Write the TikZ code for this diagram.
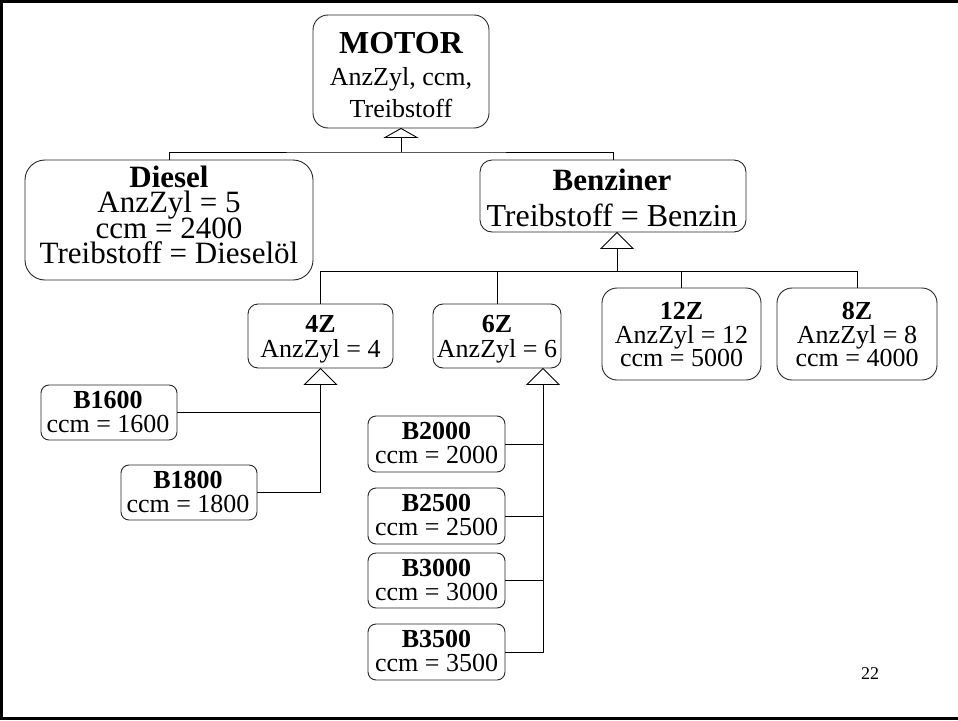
\documentclass[tikz,border=0pt]{standalone}
\usepackage{fontspec}
\setmainfont{Liberation Serif}
\usetikzlibrary{calc}
\newcommand\myfs[1]{\fontsize{#1}{#1}\selectfont}
\tikzset{
  umlbox/.style={draw=black!85, line width=0.9pt, inner sep=0pt, fill=white},
  txt/.style={anchor=base, inner sep=0pt},
  conn/.style={line width=0.9pt},
  gen/.style={line width=0.9pt, fill=white, line join=miter},
}
\begin{document}
\begin{tikzpicture}[x=1pt,y=-1pt]
\useasboundingbox (0,0) rectangle (958,720);
% slide frame
\draw[line width=3pt] (958,1.5) -- (1.5,1.5) -- (1.5,718.6) -- (958,718.6);

% boxes
\node[umlbox, rounded corners=15pt, minimum width=176pt, minimum height=113pt] (motor) at (401,71.5) {};
\node[umlbox, rounded corners=20pt, minimum width=288pt, minimum height=120pt] (diesel) at (169,220) {};
\node[umlbox, rounded corners=12pt, minimum width=266pt, minimum height=72pt] (benz) at (613,196) {};
\node[umlbox, rounded corners=10pt, minimum width=145pt, minimum height=64pt] (z4) at (320.5,336) {};
\node[umlbox, rounded corners=10pt, minimum width=128pt, minimum height=64pt] (z6) at (497,336) {};
\node[umlbox, rounded corners=15pt, minimum width=159pt, minimum height=92pt] (z12) at (681.5,334) {};
\node[umlbox, rounded corners=15pt, minimum width=160pt, minimum height=92pt] (z8) at (857,334) {};
\node[umlbox, rounded corners=8pt, minimum width=136pt, minimum height=55pt] (b1600) at (109,412.5) {};
\node[umlbox, rounded corners=8pt, minimum width=136pt, minimum height=55pt] (b1800) at (189,492.5) {};
\node[umlbox, rounded corners=8pt, minimum width=137pt, minimum height=56pt] (b2000) at (436.5,444) {};
\node[umlbox, rounded corners=8pt, minimum width=137pt, minimum height=56pt] (b2500) at (436.5,516) {};
\node[umlbox, rounded corners=8pt, minimum width=137pt, minimum height=55pt] (b3000) at (436.5,580.5) {};
\node[umlbox, rounded corners=8pt, minimum width=137pt, minimum height=56pt] (b3500) at (436.5,652) {};

% texts
\node[txt, font=\myfs{32}\bfseries] (mo1) at (401,53) {MOTOR};
\node[txt, font=\myfs{26}] (mo2) at (401,85) {AnzZyl, ccm,};
\node[txt, font=\myfs{26}] (mo3) at (401,117) {Treibstoff};

\node[txt, font=\myfs{31}\bfseries] (di1) at (169,187) {Diesel};
\node[txt, font=\myfs{31}] (di2) at (169,212.5) {AnzZyl = 5};
\node[txt, font=\myfs{31}] (di3) at (169,238) {ccm = 2400};
\node[txt, font=\myfs{31}] (di4) at (169,263.5) {Treibstoff = Dieselöl};

\node[txt, font=\myfs{31}\bfseries] (be1) at (612,190) {Benziner};
\node[txt, font=\myfs{32}] (be2) at (612,226) {Treibstoff = Benzin};

\node[txt, font=\myfs{26}\bfseries] (z4a) at (320.5,332) {4Z};
\node[txt, font=\myfs{26}] (z4b) at (320.5,357) {AnzZyl = 4};
\node[txt, font=\myfs{26}\bfseries] (z6a) at (497,332) {6Z};
\node[txt, font=\myfs{26}] (z6b) at (497,357) {AnzZyl = 6};

\node[txt, font=\myfs{26}\bfseries] (z12a) at (681.5,319) {12Z};
\node[txt, font=\myfs{26}] (z12b) at (681.5,343) {AnzZyl = 12};
\node[txt, font=\myfs{26}] (z12c) at (681.5,366) {ccm = 5000};
\node[txt, font=\myfs{26}\bfseries] (z8a) at (857,319) {8Z};
\node[txt, font=\myfs{26}] (z8b) at (857,343) {AnzZyl = 8};
\node[txt, font=\myfs{26}] (z8c) at (857,366) {ccm = 4000};

\node[txt, font=\myfs{26}\bfseries] (b16a) at (108,408) {B1600};
\node[txt, font=\myfs{26}] (b16b) at (108,432) {ccm = 1600};
\node[txt, font=\myfs{26}\bfseries] (b18a) at (188,488) {B1800};
\node[txt, font=\myfs{26}] (b18b) at (188,512) {ccm = 1800};
\node[txt, font=\myfs{26}\bfseries] (b20a) at (436.5,439) {B2000};
\node[txt, font=\myfs{26}] (b20b) at (436.5,463) {ccm = 2000};
\node[txt, font=\myfs{26}\bfseries] (b25a) at (436.5,511) {B2500};
\node[txt, font=\myfs{26}] (b25b) at (436.5,535) {ccm = 2500};
\node[txt, font=\myfs{26}\bfseries] (b30a) at (436.5,576) {B3000};
\node[txt, font=\myfs{26}] (b30b) at (436.5,600) {ccm = 3000};
\node[txt, font=\myfs{26}\bfseries] (b35a) at (436.5,647) {B3500};
\node[txt, font=\myfs{26}] (b35b) at (436.5,671) {ccm = 3500};

\node[txt, font=\myfs{18}] (page) at (870,679) {22};

% generalisation: MOTOR
\coordinate (a1) at (motor.south);
\coordinate (t1) at ($(a1)+(0,9)$);
\coordinate (j1) at (401,152);
\draw[conn] (t1) -- (j1);
\draw[conn] (diesel.north) |- (j1) -| (benz.north);
\draw[gen] (a1) -- ++(-16,9) -- ++(32,0) -- cycle;

% generalisation: Benziner
\coordinate (a2) at ($(benz.south)+(4,0)$);
\coordinate (t2) at ($(a2)+(0,16)$);
\coordinate (j2) at ($(t2)+(0,23)$);
\draw[conn] (t2) -- (j2);
\draw[conn] (z4.north) |- (j2) -| (z8.north);
\draw[conn] (z6.north) -- (z6.north |- j2);
\draw[conn] (z12.north) -- (z12.north |- j2);
\draw[gen] (a2) -- ++(-16,16) -- ++(32,0) -- cycle;

% generalisation: 4Z
\coordinate (a3) at (z4.south);
\coordinate (t3) at ($(a3)+(0,16)$);
\draw[conn] (t3) |- (b1800.east);
\draw[conn] (b1600.east) -- (b1600.east -| t3);
\draw[gen] (a3) -- ++(-16,16) -- ++(32,0) -- cycle;

% generalisation: 6Z
\coordinate (a4) at ($(z6.south)+(46,0)$);
\coordinate (t4) at ($(a4)+(0,16)$);
\draw[conn] (t4) |- (b3500.east);
\draw[conn] (b2000.east) -- (b2000.east -| t4);
\draw[conn] (b2500.east) -- (b2500.east -| t4);
\draw[conn] (b3000.east) -- (b3000.east -| t4);
\draw[gen] (a4) -- ++(-16,16) -- ++(32,0) -- cycle;
\end{tikzpicture}
\end{document}
